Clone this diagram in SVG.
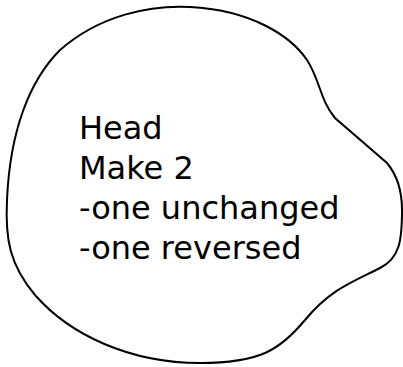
<svg xmlns="http://www.w3.org/2000/svg" width="403" height="367" viewBox="0 0 403 367">
<style>
.blob{fill:#fff;stroke:#000;stroke-width:2}
.lbl{font-family:"DejaVu Sans",sans-serif;font-size:32px;fill:#000}
</style>
<rect width="403" height="367" fill="#fff"/>
<g id="head">
<path class="blob" d="M190,7 C250,10 290,35 307,60 C320,80 320,100 335,118 L387,163 C397,175 402,190 402,210 C402,240 400,258 380,268 C350,283 330,290 305,320 C280,350 260,363 200,363 C130,363 70,335 35,295 C10,265 5,240 7,200 C10,130 30,80 60,50 C100,15 150,5 190,7 Z"/>
<text class="lbl" x="79" y="138.5">Head</text>
<text class="lbl" x="79" y="178.5">Make 2</text>
<text class="lbl" x="79" y="218.5">-one unchanged</text>
<text class="lbl" x="79" y="258.5">-one reversed</text>
</g>
<g id="connectors"/>
</svg>
